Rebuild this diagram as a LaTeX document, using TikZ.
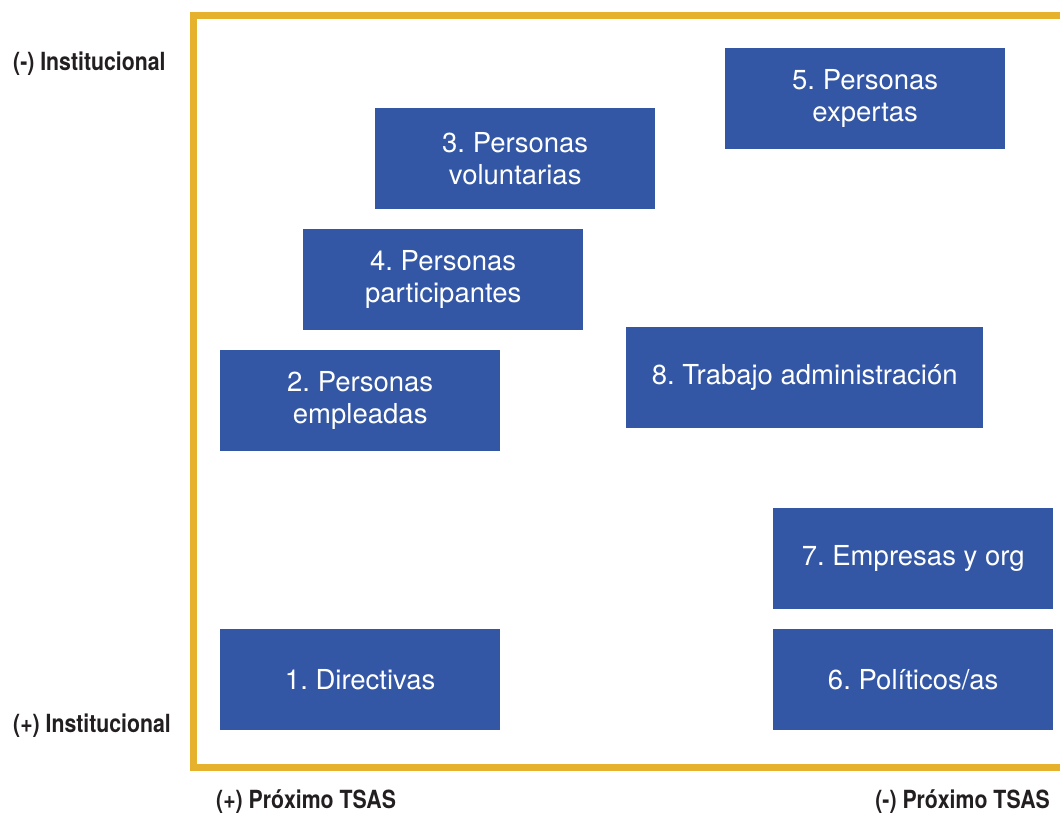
\documentclass[tikz,border=0pt]{standalone}
\usepackage{fontspec}
\setmainfont{TeX Gyre Heros}
\newfontfamily\condfont[FakeStretch=0.85]{TeX Gyre Heros}
\definecolor{frameyellow}{HTML}{E6B22E}
\definecolor{boxblue}{HTML}{3457A5}
\definecolor{labelgray}{HTML}{231F20}
\frenchspacing
\begin{document}
\begin{tikzpicture}[x=1pt,y=-1pt,
  card/.style={fill=boxblue, draw=none, anchor=north west, minimum width=280pt, minimum height=101pt,
    text=white, align=center, inner sep=0pt, font=\fontsize{27.5}{32.5}\selectfont\frenchspacing},
  axislabel/.style={text=labelgray, inner sep=0pt, font=\condfont\bfseries\fontsize{25}{30}\selectfont}]
\useasboundingbox[fill=white] (0,0) rectangle (1060,813);
% frame
\coordinate (ftr) at (1062,15.5);
\coordinate (ftl) at (193,15.5);
\coordinate (fbl) at (193,767.5);
\coordinate (fbr) at (1062,767.5);
\draw[frameyellow, line width=7pt, line join=miter] (ftr) -- (ftl) -- (fbl) -- (fbr);
% boxes
\node[card] (b5) at (725,48) {5. Personas\\expertas};
\node[card] (b3) at (375,108) {3. Personas\\voluntarias};
\node[card] (b4) at (303,229) {4. Personas\\participantes};
\node[card] (b2) at (220,350) {2. Personas\\empleadas};
\node[card, minimum width=357pt] (b8) at (626,327) {8. Trabajo administración};
\node[card] (b7) at (773,508) {7. Empresas y org};
\node[card] (b1) at (220,629) {1. Directivas};
\node[card] (b6) at (773,629) {6. Políticos/as};
% axis labels
\node[axislabel, anchor=base west] (ytop) at (13,71) {(-) Institucional};
\node[axislabel, anchor=base west] (ybot) at (13,732) {(+) Institucional};
\node[axislabel, anchor=base west] (xleft) at (216,808) {(+) Próximo TSAS};
\node[axislabel, anchor=base east] (xright) at (1050,808) {(-) Próximo TSAS};
\end{tikzpicture}
\end{document}
